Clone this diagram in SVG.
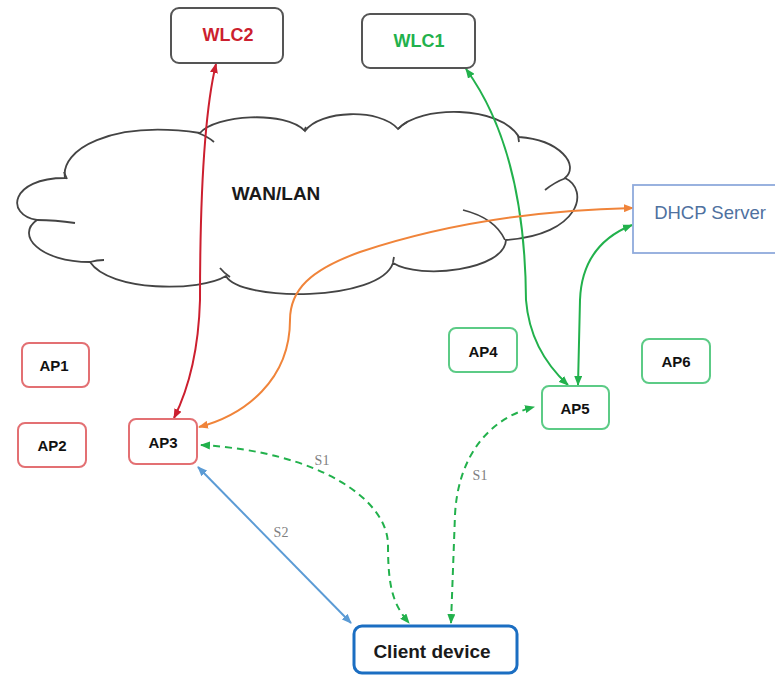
<svg xmlns="http://www.w3.org/2000/svg" width="775" height="677" viewBox="0 0 775 677">
<style>
text{font-family:"Liberation Sans",Arial,sans-serif;text-anchor:middle;dominant-baseline:central}
.b{font-weight:bold}
.cloud{fill:none;stroke:#444;stroke-width:1.8}
.wlc{fill:#fff;stroke:#555;stroke-width:2}
.apr{fill:#fff;stroke:#E37073;stroke-width:2}
.apg{fill:#fff;stroke:#5CCB86;stroke-width:2}
.ap{font-weight:bold;font-size:15px;fill:#111}
.c{fill:none;stroke-width:2}
.lbl{font-family:"Liberation Serif","Times New Roman",serif;font-size:14px;fill:#808080}
</style>
<defs>
<marker id="mr" viewBox="0 0 10 8" refX="9" refY="4" markerWidth="10" markerHeight="8" markerUnits="userSpaceOnUse" orient="auto-start-reverse"><path d="M0,0 L10,4 L0,8 z" fill="#CC1F2F"/></marker>
<marker id="mg" viewBox="0 0 10 8" refX="9" refY="4" markerWidth="10" markerHeight="8" markerUnits="userSpaceOnUse" orient="auto-start-reverse"><path d="M0,0 L10,4 L0,8 z" fill="#22B14C"/></marker>
<marker id="mo" viewBox="0 0 10 8" refX="9" refY="4" markerWidth="10" markerHeight="8" markerUnits="userSpaceOnUse" orient="auto-start-reverse"><path d="M0,0 L10,4 L0,8 z" fill="#F0843A"/></marker>
<marker id="mb" viewBox="0 0 10 8" refX="9" refY="4" markerWidth="10" markerHeight="8" markerUnits="userSpaceOnUse" orient="auto-start-reverse"><path d="M0,0 L10,4 L0,8 z" fill="#5B9BD5"/></marker>
</defs>
<g id="cloud">
<path class="cloud" d="M65,178 C60,150 110,120 200,133 C215,115 285,110 305,131 C320,110 380,108 398,129 C420,105 500,105 519,137 C560,140 580,165 565,178 C590,190 580,235 506,240 C505,270 420,280 393,263 C380,302 240,302 226,276 C200,292 110,292 90,262 C40,262 15,235 37,220 C5,215 10,178 65,178 Z"/>
<path class="cloud" d="M37,220 Q55,220 75,223 M90,262 Q97,260 104,260 M220,268 Q224,273 230,277 M198,133 Q207,136 214,142 M398,129 Q402,125 407,122 M518,135 L519,142 M566,178 Q555,182 545,190 M463,210 Q495,218 505,240 M393,262 L394,257 M64,172 L67,179 M304,131 L306,127"/>
<text class="b" x="276" y="193" font-size="19" fill="#1a1a1a">WAN/LAN</text>
</g>
<g id="connectors">
<path class="c" stroke="#CC1F2F" d="M216,64 Q200,130 200,300 Q198,370 174,418" marker-start="url(#mr)" marker-end="url(#mr)"/>
<path class="c" stroke="#22B14C" d="M466,69 Q525,150 526,300 Q530,350 568,385" marker-start="url(#mg)" marker-end="url(#mg)"/>
<path class="c" stroke="#22B14C" d="M632,225 Q582,245 580,300 L578,385" marker-start="url(#mg)" marker-end="url(#mg)"/>
<path class="c" stroke="#F0843A" d="M199,427 C245,415 290,380 290,320 C290,290 310,270 360,252 C450,222 540,210 633,208" marker-start="url(#mo)" marker-end="url(#mo)"/>
<path class="c" stroke="#5B9BD5" d="M198,467 L351,623" marker-start="url(#mb)" marker-end="url(#mb)"/>
<path class="c" stroke="#22B14C" stroke-dasharray="7,5" d="M201,445 C320,452 388,500 388,545 C388,590 394,605 409,623" marker-start="url(#mg)" marker-end="url(#mg)"/>
<path class="c" stroke="#22B14C" stroke-dasharray="7,5" d="M451,623 L455,515 C458,455 490,418 534,407" marker-start="url(#mg)" marker-end="url(#mg)"/>
<text class="lbl" x="322" y="460">S1</text>
<text class="lbl" x="281" y="532">S2</text>
<text class="lbl" x="480" y="475">S1</text>
</g>
<g id="wlc2"><rect class="wlc" x="171" y="8" width="112" height="55" rx="8"/><text class="b" x="228" y="35" font-size="18" fill="#CC1F2F">WLC2</text></g>
<g id="wlc1"><rect class="wlc" x="362" y="14" width="113" height="54" rx="8"/><text class="b" x="419" y="41" font-size="18" fill="#22B14C">WLC1</text></g>
<g id="dhcp"><rect x="633" y="185" width="150" height="68" fill="#fff" stroke="#8FAADC" stroke-width="1.8"/><text x="710" y="212" font-size="18.5" fill="#4F71A0">DHCP Server</text></g>
<g id="ap1"><rect class="apr" x="22" y="343" width="67" height="44" rx="7"/><text class="ap" x="54" y="365">AP1</text></g>
<g id="ap2"><rect class="apr" x="18" y="423" width="68" height="44" rx="7"/><text class="ap" x="52" y="445">AP2</text></g>
<g id="ap3"><rect class="apr" x="129" y="419" width="68" height="45" rx="7"/><text class="ap" x="163" y="442">AP3</text></g>
<g id="ap4"><rect class="apg" x="449" y="328" width="68" height="44" rx="7"/><text class="ap" x="483" y="351">AP4</text></g>
<g id="ap5"><rect class="apg" x="542" y="386" width="67" height="43" rx="7"/><text class="ap" x="575" y="408">AP5</text></g>
<g id="ap6"><rect class="apg" x="642" y="339" width="68" height="44" rx="7"/><text class="ap" x="676" y="361">AP6</text></g>
<g id="client"><rect x="354" y="626" width="163" height="47" rx="8" fill="#fff" stroke="#1B6EC2" stroke-width="3"/><text class="b" x="432" y="651" font-size="19" fill="#1a1a1a">Client device</text></g>
</svg>
